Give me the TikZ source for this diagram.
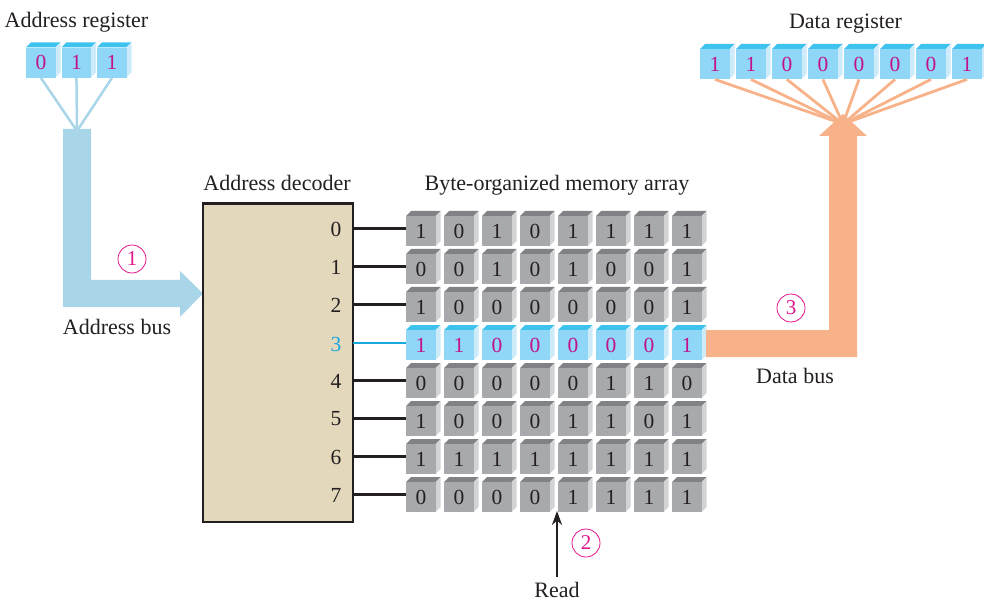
\documentclass[tikz,border=0pt]{standalone}
\usepackage{fontspec}
\setmainfont{Liberation Serif}
\usetikzlibrary{calc,arrows.meta}
\definecolor{frontgray}{HTML}{A7A9AC}
\definecolor{topgray}{HTML}{808285}
\definecolor{sidegray}{HTML}{D1D3D4}
\definecolor{frontblue}{HTML}{8FD6F7}
\definecolor{topblue}{HTML}{3DC3EE}
\definecolor{sideblue}{HTML}{CDEBF9}
\definecolor{busblue}{HTML}{A9D5E8}
\definecolor{busorange}{HTML}{F7B28A}
\definecolor{decoderfill}{HTML}{E3D8BC}
\definecolor{magentatxt}{HTML}{C2128C}
\definecolor{circlemag}{HTML}{E0148C}
\definecolor{linkblue}{HTML}{17A8DC}
\definecolor{inkc}{HTML}{231F20}
\tikzset{
  x=1pt,y=-1pt,
  lab/.style={font=\fontsize{22}{24}\selectfont,text=inkc,inner sep=0pt,anchor=base},
  idx/.style={font=\fontsize{21.5}{24}\selectfont,text=inkc,inner sep=0pt},
  bitg/.style={font=\fontsize{21.5}{24}\selectfont,text=inkc,inner sep=0pt,minimum width=29.5pt,minimum height=30pt},
  bitb/.style={font=\fontsize{21.5}{24}\selectfont,text=magentatxt,inner sep=0pt,minimum width=29.5pt,minimum height=30pt},
  stepmark/.style={circle,draw=circlemag,text=circlemag,line width=.8pt,minimum size=28pt,inner sep=0pt,font=\fontsize{21}{24}\selectfont},
  rowline/.style={line width=2.7pt,inkc},
  wireb/.style={line width=2.5pt,busblue},
  wireo/.style={line width=2.8pt,busorange},
}
% #1 name, #2 x, #3 y, #4 digit, #5 front, #6 top, #7 side, #8 text style
\newcommand{\cube}[8]{%
  \fill[#6] (#2,#3) -- ++(5,-5) -- ++(29.5,0) -- ++(-5,5) -- cycle;
  \fill[#7] (#2+29.5,#3) -- ++(5,-5) -- ++(0,30) -- ++(-5,5) -- cycle;
  \node[#8,fill=#5,anchor=north west] (#1) at (#2,#3) {#4};
}
\begin{document}
\begin{tikzpicture}
\useasboundingbox (0,0) rectangle (984,601);
\coordinate (addrjoin) at (77,131);
\coordinate (datajoin) at (843,124);
% address register
\foreach \d [count=\i from 0] in {0,1,1}{
  \cube{a\i}{26+35.5*\i}{47.5}{\d}{frontblue}{topblue}{sideblue}{bitb}
}
\foreach \i in {0,1,2}{\draw[wireb] (a\i.south) -- (addrjoin);}
\node[lab] (areglabel) at (76.5,28) {Address register};
% data register
\foreach \d [count=\i from 0] in {1,1,0,0,0,0,0,1}{
  \cube{d\i}{700+36*\i}{49}{\d}{frontblue}{topblue}{sideblue}{bitb}
}
\foreach \i in {0,...,7}{\draw[wireo] (d\i.south) -- (datajoin);}
\node[lab] (dreglabel) at (845.5,28.5) {Data register};
% address bus
\fill[busblue] (63,129) -- (91,129) -- (91,280) -- (180,280) -- (180,271) -- (203,293.5) -- (180,317) -- (180,307) -- (63,307) -- cycle;
\node[lab] (abuslabel) at (117,334) {Address bus};
\node[stepmark] (s1) at (132,259) {1};
% decoder
\node[draw=inkc,line width=2.4pt,fill=decoderfill,minimum width=150pt,minimum height=318pt,inner sep=0pt,anchor=north west] (dec) at (202,202.5) {};
\node[lab] (declabel) at (277,190.5) {Address decoder};
\node[lab] (memlabel) at (557,190.5) {Byte-organized memory array};
% array
\foreach \row [count=\r from 0] in {{1,0,1,0,1,1,1,1},{0,0,1,0,1,0,0,1},{1,0,0,0,0,0,0,1},{1,1,0,0,0,0,0,1},{0,0,0,0,0,1,1,0},{1,0,0,0,1,1,0,1},{1,1,1,1,1,1,1,1},{0,0,0,0,1,1,1,1}}{
  \foreach \d [count=\c from 0] in \row {
    \ifnum\r=3
      \cube{m\r x\c}{406+38*\c}{216+38*\r}{\d}{frontblue}{topblue}{sideblue}{bitb}
    \else
      \cube{m\r x\c}{406+38*\c}{216+38*\r}{\d}{frontgray}{topgray}{sidegray}{bitg}
    \fi
  }
}
% row lines and labels
\foreach \r in {0,1,2,4,5,6,7}{
  \coordinate (dl\r) at (353,{228.5+38*\r});
  \draw[rowline] (dl\r) -- (dl\r -| m\r x0.west);
  \node[idx] (n\r) at (336,{229+38*\r}) {\r};
}
\coordinate (dl3) at (353,343);
\draw[line width=2.7pt,linkblue] (dl3) -- (dl3 -| m3x0.west);
\node[idx,text=linkblue] (n3) at (336,344) {3};
% data bus
\fill[busorange] (706,330) -- (829,330) -- (829,136) -- (819,136) -- (843,114) -- (867,136) -- (857,136) -- (857,357) -- (706,357) -- cycle;
\node[stepmark] (s3) at (791,308) {3};
\node[lab] (dbuslabel) at (795,383) {Data bus};
% read
\node[lab] (readlabel) at (557,597) {Read};
\coordinate (readtail) at (557,577);
\coordinate (readtip) at (557,511);
\draw[line width=2.5pt,inkc,-{Stealth[length=14pt,width=10pt]}] (readtail) -- (readtip);
\node[stepmark] (s2) at (586,543) {2};
\end{tikzpicture}
\end{document}
